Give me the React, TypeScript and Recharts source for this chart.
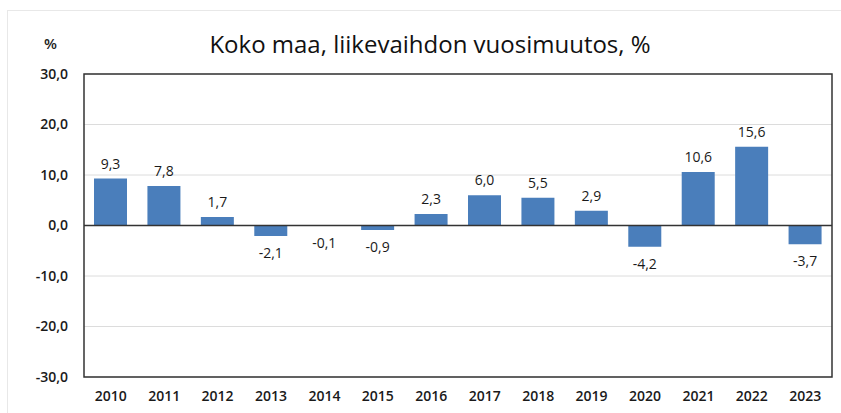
import {
  BarChart,
  Bar,
  XAxis,
  YAxis,
  CartesianGrid,
  ReferenceLine,
  ReferenceArea,
  LabelList,
} from "recharts";

const years = [
  "2010", "2011", "2012", "2013", "2014", "2015", "2016",
  "2017", "2018", "2019", "2020", "2021", "2022", "2023",
];
const changes = [9.3, 7.8, 1.7, -2.1, -0.1, -0.9, 2.3, 6.0, 5.5, 2.9, -4.2, 10.6, 15.6, -3.7];
const yTicks = [-30, -20, -10, 0, 10, 20, 30];

const data = years.map((year, i) => ({ year, value: changes[i] }));

const fmt = (v: number) => v.toFixed(1).replace(".", ",");
const FONT = "'Open Sans', 'Liberation Sans', sans-serif";

function ValueLabel(props: any) {
  const { x, y, width, height, value } = props;
  const top = Math.min(y, y + height);
  const bottom = Math.max(y, y + height);
  const cx = x + width / 2;
  const ty = value >= 0 ? top - 10 : bottom + 22;
  return (
    <text x={cx} y={ty} textAnchor="middle" fontSize={14} fill="#1a1a1a" fontFamily={FONT}>
      {fmt(value)}
    </text>
  );
}

export default function App() {
  return (
    <div style={{ position: "absolute", left: 0, top: 0, width: 841, height: 413, background: "#fff" }}>
      <div
        style={{
          position: "absolute",
          left: 7,
          top: 10,
          width: 834,
          height: 403,
          borderLeft: "1px solid #e8e8e8",
          borderTop: "1px solid #e8e8e8",
        }}
      />
      <div
        style={{
          position: "absolute",
          left: 0,
          width: 841,
          top: 27,
          textAlign: "center",
          fontFamily: FONT,
          fontSize: 24,
          color: "#111",
          paddingLeft: 19,
          boxSizing: "border-box",
        }}
      >
        Koko maa, liikevaihdon vuosimuutos, %
      </div>
      <div
        style={{
          position: "absolute",
          left: 44,
          top: 33,
          fontFamily: FONT,
          fontSize: 15,
          fontWeight: 600,
          color: "#222",
        }}
      >
        %
      </div>
      <div style={{ position: "absolute", left: 0, top: 0 }}>
        <BarChart
          width={841}
          height={413}
          data={data}
          margin={{ top: 74, right: 9, bottom: 6, left: 24 }}
          barSize={33}
        >
          <CartesianGrid vertical={false} stroke="#dcdcdc" />
          <XAxis
            dataKey="year"
            axisLine={false}
            tickLine={false}
            tickSize={0}
            tickMargin={14}
            height={30}
            tick={{ fontSize: 14, fill: "#1a1a1a", fontFamily: FONT, fontWeight: 600 }}
            interval={0}
          />
          <YAxis
            domain={[-30, 30]}
            ticks={yTicks}
            tickFormatter={fmt}
            axisLine={false}
            tickLine={false}
            tickSize={0}
            tickMargin={16}
            width={60}
            tick={{ fontSize: 14, fill: "#1a1a1a", fontFamily: FONT, fontWeight: 600 }}
          />
          <ReferenceArea y1={-30} y2={30} fill="none" fillOpacity={0} stroke="#333" strokeWidth={1.5} ifOverflow="visible" />
          <ReferenceLine y={0} stroke="#333" strokeWidth={1.5} />
          <Bar dataKey="value" fill="#4a7ebb" isAnimationActive={false}>
            <LabelList dataKey="value" content={<ValueLabel />} />
          </Bar>
        </BarChart>
      </div>
    </div>
  );
}
